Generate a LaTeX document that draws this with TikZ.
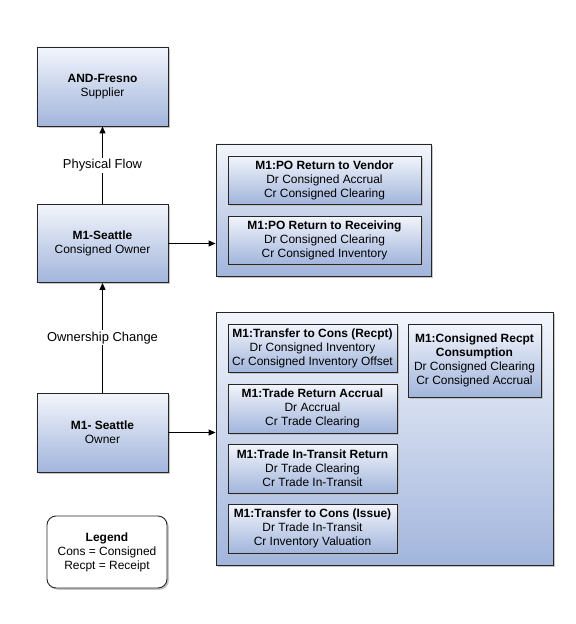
\documentclass[tikz,border=0pt]{standalone}
\usepackage{fontspec}
\setmainfont{Liberation Sans}
\usetikzlibrary{shadows,arrows.meta,positioning}
\definecolor{boxtop}{HTML}{F2F5FB}
\definecolor{boxbot}{HTML}{A2B5DC}
\definecolor{shad}{HTML}{B8B8B8}
\tikzset{
  gbox/.style={draw=black!85, line width=0.9bp, top color=boxtop, bottom color=boxbot,
    drop shadow={shadow xshift=1.8bp, shadow yshift=-1.8bp, fill=shad, opacity=0.8},
    align=center, inner sep=0pt, font=\fontsize{12}{14}\selectfont},
  legendbox/.style={draw=black!85, line width=0.9bp, rounded corners=9bp, fill=white,
    drop shadow={shadow xshift=1.8bp, shadow yshift=-1.8bp, fill=shad, opacity=0.8},
    align=center, inner sep=0pt, font=\fontsize{12}{14}\selectfont},
  conn/.style={line width=0.9bp, -{Triangle[length=7bp,width=6bp]}},
  flowlbl/.style={fill=white, inner sep=1.5bp, font=\fontsize{13}{15}\selectfont},
}
\begin{document}
\begin{tikzpicture}[x=1bp,y=-1bp]
\useasboundingbox (0,0) rectangle (576,624);
% left column
\node[gbox, minimum width=131bp, minimum height=79bp] (fresno) at (102.5,86.5) {\textbf{AND-Fresno}\\Supplier};
\node[gbox, minimum width=131bp, minimum height=78bp] (cowner) at (102.5,243.5) {\textbf{M1-Seattle}\\Consigned Owner};
\node[gbox, minimum width=131bp, minimum height=79bp] (owner) at (102.5,432.5) {\textbf{M1- Seattle}\\Owner};
\node[legendbox, minimum width=120bp, minimum height=72bp] (legend) at (107,552) {\textbf{Legend}\\Cons = Consigned\\Recpt = Receipt};
% upper container
\node[gbox, minimum width=215bp, minimum height=132bp] (up) at (323.5,210) {};
\node[gbox, minimum width=193bp, minimum height=48bp] (u1) at (324.5,180) {\textbf{M1:PO Return to Vendor}\\Dr Consigned Accrual\\Cr Consigned Clearing};
\node[gbox, minimum width=193bp, minimum height=48bp] (u2) at (324.5,240) {\textbf{M1:PO Return to Receiving}\\Dr Consigned Clearing\\Cr Consigned Inventory};
% lower container
\node[gbox, minimum width=337bp, minimum height=253bp] (low) at (384.5,438.5) {};
\node[gbox, minimum width=169bp, minimum height=48bp] (la) at (312.5,348) {\textbf{M1:Transfer to Cons (Recpt)}\\Dr Consigned Inventory\\Cr Consigned Inventory Offset};
\node[gbox, minimum width=169bp, minimum height=49bp] (lb) at (312.5,408.5) {\textbf{M1:Trade Return Accrual}\\Dr Accrual\\Cr Trade Clearing};
\node[gbox, minimum width=169bp, minimum height=49bp] (lc) at (312.5,468.5) {\textbf{M1:Trade In-Transit Return}\\Dr Trade Clearing\\Cr Trade In-Transit};
\node[gbox, minimum width=169bp, minimum height=49bp] (ld) at (312.5,528.5) {\textbf{M1:Transfer to Cons (Issue)}\\Dr Trade In-Transit\\Cr Inventory Valuation};
\node[gbox, minimum width=133bp, minimum height=73bp] (le) at (474.5,360.5) {\textbf{M1:Consigned Recpt}\\\textbf{Consumption}\\Dr Consigned Clearing\\Cr Consigned Accrual};
% connectors
\draw[conn] (cowner.north) -- node[flowlbl, pos=0.5] {Physical Flow} (fresno.south);
\draw[conn] (owner.north) -- node[flowlbl, pos=0.5] {Ownership Change} (cowner.south);
\draw[conn] (cowner.east) -- (cowner.east -| up.west);
\draw[conn] (owner.east) -- (owner.east -| low.west);
\end{tikzpicture}
\end{document}
